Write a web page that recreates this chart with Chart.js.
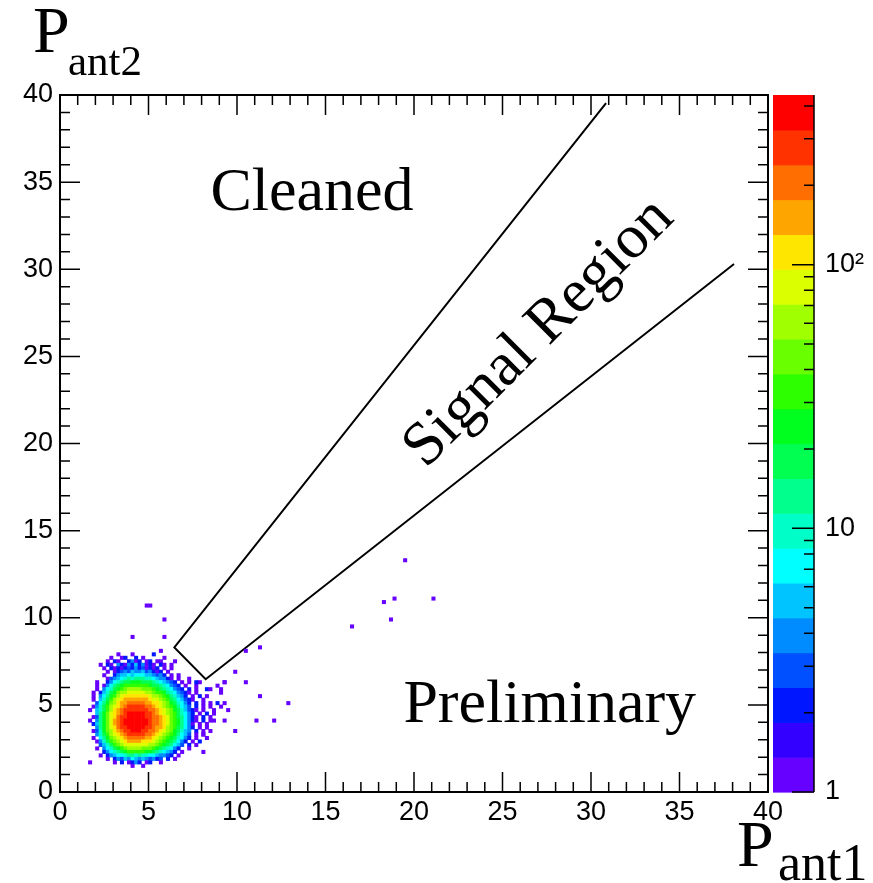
<!DOCTYPE html>
<html>
<head>
<meta charset="utf-8">
<title>Cleaned P_ant1 vs P_ant2</title>
<script src="https://cdn.jsdelivr.net/npm/chart.js@4"></script>
<style>
  html, body { margin: 0; padding: 0; background: #fff; }
  canvas { display: block; }
</style>
</head>
<body>
<canvas id="chart" width="873" height="883"></canvas>
<script>
/* ── P_ant1 vs P_ant2 occupancy, log colour scale ───── */

// axes
const axisMin = 0;
const axisMax = 40;
const axisStep = 5;
const zMin = 1;
const zMax = 440;
const paletteTicks = [1, 2, 3, 4, 5, 6, 7, 8, 9, 10, 20, 30, 40, 50, 60, 70, 80, 90, 100, 200, 300, 400];
const paletteMajor = [1, 10, 100];

// binning of the 2D histogram
const binW = 0.2;
const gridX0 = 1.6;    // left edge of the first column
const gridYTop = 8.2;  // top edge of the first row

// one letter per bin: '.' empty, otherwise index into cellCounts
const cellCodes = 'acdefghijklmnopqrst';
const cellCounts = [1, 2, 3, 4, 5, 7, 10, 13, 18, 25, 33, 45, 62, 84, 113, 154, 208, 282, 380];

// main cluster, top row first
const clusterRows = [
  '....................a...............',
  '........a...a.....c.................',
  '......a..ac..c.a.....a..............',
  '.....a.ca..ceac.ac.aa...a...........',
  '...a.ca.ecaecfceaca.ca.a............',
  '....a.cacacdcecdacac.a.a............',
  '.....a.acdedfeefdecac.a.............',
  '....a..ceffgfgggffedec.a.a..........',
  '.....adefghihiiihhgfeeca.a..a.......',
  '..a..ceghijjkkkjjjihgfedc.a.a.......',
  '..a.aegijklllllllkjjihgedc.a..a.....',
  '..a.eghjklmnnnnmmmlkjihgedc.c.a.....',
  '.a.cfhjkmnnooooonnmllkihgedca.a.....',
  '.a.egiklnoppppppponnmlkihfec.a.c.a..',
  '.a.fhjlnopqqqqqqqpoonmljigfdca..a...',
  '..dgikmnpqqrrrrrqqpponmkjhgec.c.a.a.',
  '.aehjlnopqrsssssrrqponmlkigfd.c.a.a.',
  'a.fhjlnpqrsssssssrrqponmkjhfdca.a..a',
  '..fikmopqrstttttssrqponmljhgec.a.c.a',
  '.adikmoprsstttttssrrqpomljigeca.c.a.',
  'a.eikmoqrstttttttsrrqpomlkigeca.c.a.',
  '.cfikmoqrstttttttsrrqpomlkigea.a.a..',
  '..eikmoprsstttttssrqqpnmljigec.a.a..',
  '.adhkmnpqrsstttssrrqponmkjhfe.c.a.a.',
  '..ehjlnopqrsssssrrqponmlkigfd.a.a...',
  '.a.gikmnopqrrrrrqqponmlkjhgec.a..a..',
  '..aehjlmnopqqqqppponmlkjigec.a.c....',
  '...dfhjlmnooooooonnmlkjigfd.c.a.....',
  '..a.eghjklmnnnnmmmlkjihgec..a.......',
  '....ceghijklllllkkjihgfec.a.........',
  '...a.cefgghiihihhggfeedc.a..........',
  '.....a.cedfegfefedecd.c.a...........',
  'a......a.c.acec.ac..a...............',
  '............a..a....................'
];

// isolated entries away from the cluster: [P_ant1, P_ant2, count]
const strayHits = [
  [4.9, 10.65, 1], [5.1, 10.65, 1], [5.99, 9.81, 1], [4.18, 8.93, 1], [5.88, 8.86, 1],
  [10.55, 8.09, 1], [11.39, 8.22, 1], [9.94, 6.93, 1], [9.23, 6.31, 1], [10.56, 6.31, 1],
  [11.39, 5.6, 1], [12.8, 5.12, 1], [12.15, 4.17, 1], [11.2, 4.03, 1], [9.81, 3.56, 1],
  [9.23, 4.17, 1], [8.76, 4.03, 1], [8.15, 2.37, 1], [8.06, 3.21, 1], [9.38, 5.0, 1],
  [8.9, 5.0, 2], [9.0, 5.85, 1], [8.29, 5.85, 2], [8.57, 5.85, 1], [7.9, 6.24, 1],
  [7.72, 6.24, 2], [19.44, 13.27, 1], [18.23, 10.98, 1], [18.84, 11.2, 1], [21.0, 11.1, 1],
  [18.6, 9.81, 1], [16.42, 9.53, 1], [9.6, 4.65, 1], [9.1, 5.7, 1], [8.85, 6.04, 1],
  [9.27, 6.33, 1], [9.13, 4.99, 1]
];

// signal region boundary
const regionX = [30.85, 6.46, 8.23, 38.08];
const regionY = [39.54, 8.30, 6.47, 30.30];

// ROOT-like rainbow, lowest level first
const palette = [
  '#6600ff', '#3300ff', '#0016ff', '#0050ff', '#008cff', '#00c4ff', '#00ffff', '#00ffc8', '#00ff8c', '#00ff50',
  '#00ff1e', '#2dff00', '#69ff00', '#a0ff00', '#dcff00', '#ffe600', '#ffa500', '#ff6e00', '#ff3200', '#ff0000'
];
const levelOf = n => Math.min(palette.length - 1,
  Math.max(0, Math.floor(Math.log10(n) / Math.log10(zMax) * palette.length)));

const cells = [];
clusterRows.forEach((row, r) => {
  [...row].forEach((ch, c) => {
    const k = cellCodes.indexOf(ch);
    if (k < 0) return;
    cells.push({ x: gridX0 + (c + 0.5) * binW, y: gridYTop - (r + 0.5) * binW, n: cellCounts[k] });
  });
});
strayHits.forEach(([x, y, n]) => {
  cells.push({ x: (Math.floor(x / binW) + 0.5) * binW, y: (Math.floor(y / binW) + 0.5) * binW, n });
});

const region = regionX.map((x, i) => ({ x, y: regionY[i] }));

const notes = [
  { text: 'Cleaned', x: 8.5, y: 33.4, angle: 0, align: 'left' },
  { text: 'Preliminary', x: 19.4, y: 4.0, angle: 0, align: 'left' },
  { text: 'Signal Region', x: 27.06, y: 26.34, angle: -45, align: 'center' }
];

const serif = '"Liberation Serif", "DejaVu Serif", serif';

// frame ticks, palette bar and the text decorations
const decor = {
  id: 'decor',
  afterDatasetsDraw(chart) {
    const { ctx, chartArea: a, scales: { x, y, z } } = chart;
    ctx.save();

    // palette
    const barL = a.right + 5, barR = a.right + 46;
    const step = Math.log10(zMax) / palette.length;
    palette.forEach((col, k) => {
      const top = z.getPixelForValue(10 ** ((k + 1) * step));
      const bot = z.getPixelForValue(10 ** (k * step));
      ctx.fillStyle = col;
      ctx.fillRect(barL, top, barR - barL, bot - top + 0.6);
    });
    ctx.strokeStyle = '#000';
    ctx.lineWidth = 1.5;
    ctx.beginPath();
    ctx.moveTo(barR, a.top);
    ctx.lineTo(barR, a.bottom);
    paletteTicks.forEach(v => {
      const py = z.getPixelForValue(v);
      const len = paletteMajor.includes(v) ? 22 : 10;
      ctx.moveTo(barR, py);
      ctx.lineTo(barR - len, py);
    });
    ctx.stroke();

    // ticks on all four sides of the frame
    ctx.beginPath();
    for (let v = axisMin; v <= axisMax; v += 1) {
      const len = v % axisStep === 0 ? 20 : 10;
      const px = x.getPixelForValue(v);
      const py = y.getPixelForValue(v);
      ctx.moveTo(px, a.bottom); ctx.lineTo(px, a.bottom - len);
      ctx.moveTo(px, a.top);    ctx.lineTo(px, a.top + len);
      ctx.moveTo(a.left, py);   ctx.lineTo(a.left + len, py);
      ctx.moveTo(a.right, py);  ctx.lineTo(a.right - len, py);
    }
    ctx.stroke();
    ctx.lineWidth = 2;
    ctx.strokeRect(a.left, a.top, a.right - a.left, a.bottom - a.top);

    // labels inside the frame
    ctx.fillStyle = '#000';
    ctx.font = '62px ' + serif;
    notes.forEach(n => {
      ctx.save();
      ctx.translate(x.getPixelForValue(n.x), y.getPixelForValue(n.y));
      ctx.rotate(n.angle * Math.PI / 180);
      ctx.textAlign = n.align;
      ctx.textBaseline = n.align === 'center' ? 'middle' : 'alphabetic';
      ctx.fillText(n.text, 0, 0);
      ctx.restore();
    });

    // axis titles with subscripts
    ctx.textAlign = 'left';
    ctx.textBaseline = 'alphabetic';
    ctx.font = '66px ' + serif;
    ctx.fillText('P', 33, 52);
    ctx.fillText('P', 737, 866);
    ctx.font = '43px ' + serif;
    ctx.fillText('ant2', 68, 75);
    ctx.font = '52px ' + serif;
    ctx.fillText('ant1', 778, 880);

    ctx.restore();
  }
};

Chart.defaults.font.family = '"Liberation Sans", Arial, sans-serif';
Chart.defaults.color = '#000';

new Chart(document.getElementById('chart'), {
  type: 'scatter',
  data: {
    datasets: [
      {
        data: cells,
        pointStyle: 'rect',
        pointRadius: ctx => {
          const sx = ctx.chart.scales.x;
          return (sx.getPixelForValue(binW) - sx.getPixelForValue(0) + 0.5) / Math.SQRT2;
        },
        pointBorderWidth: 0,
        pointBackgroundColor: ctx => palette[levelOf(ctx.raw.n)]
      },
      {
        type: 'line',
        data: region,
        showLine: true,
        borderColor: '#000',
        borderWidth: 2,
        pointRadius: 0,
        tension: 0,
        fill: false
      }
    ]
  },
  options: {
    responsive: false,
    animation: false,
    events: [],
    layout: { padding: { top: 95, left: 0, right: 0, bottom: 0 } },
    plugins: { legend: { display: false }, tooltip: { enabled: false } },
    scales: {
      x: {
        type: 'linear', min: axisMin, max: axisMax,
        grid: { display: false, drawTicks: false }, border: { display: false },
        ticks: { stepSize: axisStep, padding: 4, font: { size: 27 } },
        afterFit: s => { s.height = 91; }
      },
      y: {
        type: 'linear', min: axisMin, max: axisMax,
        grid: { display: false, drawTicks: false }, border: { display: false },
        ticks: { stepSize: axisStep, padding: 7, font: { size: 27 } },
        afterFit: s => { s.width = 60; }
      },
      z: {
        type: 'logarithmic', position: 'right', min: zMin, max: zMax,
        grid: { display: false, drawTicks: false }, border: { display: false },
        ticks: {
          autoSkip: false, padding: 57, font: { size: 27 },
          callback: v => v === 1 ? '1' : v === 10 ? '10' : v === 100 ? '10\u00B2' : null
        },
        afterFit: s => { s.width = 105; }
      }
    }
  },
  plugins: [decor]
});
</script>
</body>
</html>
